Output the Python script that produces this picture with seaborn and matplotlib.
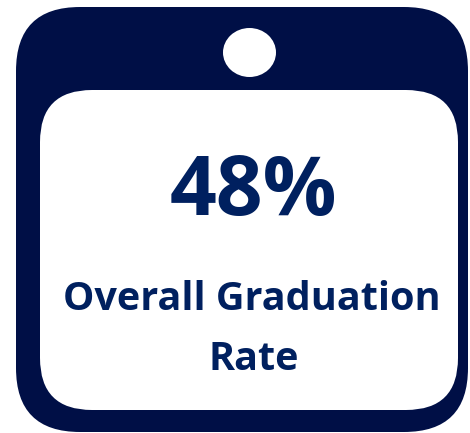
import matplotlib
matplotlib.use("Agg")
import matplotlib.pyplot as plt
from matplotlib.patches import FancyBboxPatch, Ellipse
import seaborn as sns

# Data
metric_value = [48]
metric_label = ["Overall Graduation", "Rate"]

sns.set_theme(style="white")
plt.rcParams['font.family'] = ['Open Sans', 'DejaVu Sans']

FRAME = "#000F46"
TEXT = "#00205F"

fig = plt.figure(figsize=(4.70, 4.33), dpi=100)
ax = fig.add_axes([0, 0, 1, 1])
ax.set_xlim(0, 470)
ax.set_ylim(433, 0)
ax.axis("off")

outer = FancyBboxPatch((16, 7), 452, 425, boxstyle="round,pad=0,rounding_size=64",
                       facecolor=FRAME, edgecolor="none")
ax.add_patch(outer)
inner = FancyBboxPatch((40, 90), 418, 320, boxstyle="round,pad=0,rounding_size=52",
                       facecolor="white", edgecolor="none")
ax.add_patch(inner)
hole = Ellipse((249.5, 52.5), 53, 49, facecolor="white", edgecolor="none")
ax.add_patch(hole)

ax.text(253, 193, f"{metric_value[0]}%", ha="center", va="center",
        fontsize=59, fontweight="bold", color=TEXT)
ax.text(252, 300, metric_label[0], ha="center", va="center",
        fontsize=28.5, fontweight="bold", color=TEXT)
ax.text(254, 360, metric_label[1], ha="center", va="center",
        fontsize=28.5, fontweight="bold", color=TEXT)

fig.savefig("out.png", dpi=100)
